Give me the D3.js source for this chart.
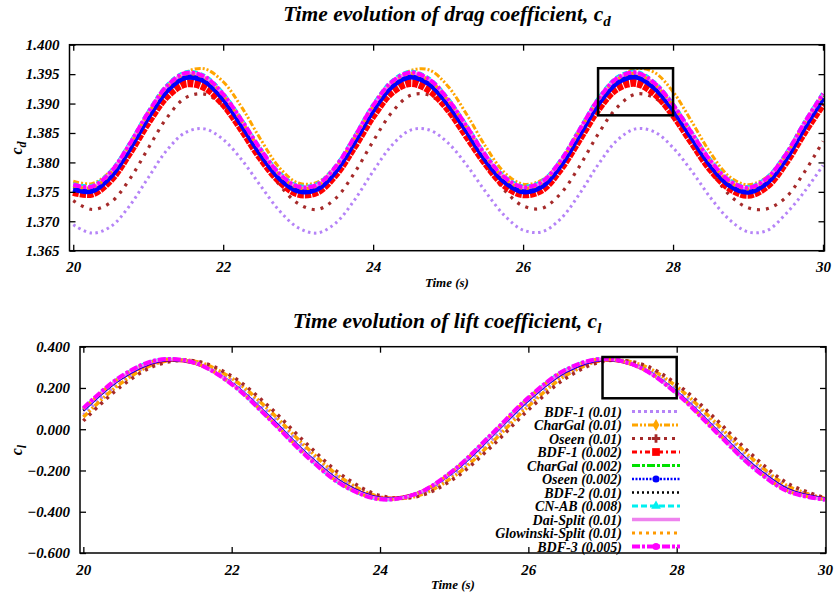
<!DOCTYPE html>
<html>
<head>
<meta charset="utf-8">
<script src="https://cdn.jsdelivr.net/npm/d3@7/dist/d3.min.js"></script>
<style>
  body { margin: 0; background: #fff; }
  svg text { font-family: "Liberation Serif", "DejaVu Serif", serif; font-weight: bold; font-style: italic; fill: #000; }
</style>
</head>
<body>
<div id="chart"></div>
<script>
// ---- data ----
const seriesNames = ["BDF-1 (0.01)", "CharGal (0.01)", "Oseen (0.01)", "BDF-1 (0.002)", "CharGal (0.002)",
  "Oseen (0.002)", "BDF-2 (0.01)", "CN-AB (0.008)", "Dai-Split (0.01)", "Glowinski-Split (0.01)", "BDF-3 (0.005)"]

const timeTicks = [20, 22, 24, 26, 28, 30]
const cdTicks = [1.365, 1.370, 1.375, 1.380, 1.385, 1.390, 1.395, 1.400]
const clTicks = [-0.6, -0.4, -0.2, 0.0, 0.2, 0.4]

const dragTime = [20, 20.25, 20.5, 20.75, 21, 21.25, 21.5, 21.75, 22, 22.25, 22.5, 22.75, 23, 23.25, 23.5, 23.75,
  24, 24.25, 24.5, 24.75, 25, 25.25, 25.5, 25.75, 26, 26.25, 26.5, 26.75, 27, 27.25, 27.5, 27.75,
  28, 28.25, 28.5, 28.75, 29, 29.25, 29.5, 29.75, 30]

const cdBdf1_01 = [1.3694, 1.3680, 1.3691, 1.3726, 1.3774, 1.3821, 1.3851, 1.3857, 1.3839, 1.3804, 1.3760, 1.3718, 1.3689, 1.3680, 1.3697, 1.3736,
  1.3785, 1.3829, 1.3855, 1.3855, 1.3833, 1.3795, 1.3750, 1.3710, 1.3685, 1.3682, 1.3704, 1.3746, 1.3796, 1.3837, 1.3857, 1.3852,
  1.3825, 1.3785, 1.3740, 1.3703, 1.3682, 1.3684, 1.3712, 1.3750, 1.3795]
const cdCharGal_01 = [1.3768, 1.3764, 1.3785, 1.3826, 1.3876, 1.3922, 1.3953, 1.3959, 1.3937, 1.3893, 1.3839, 1.3791, 1.3765, 1.3766, 1.3793, 1.3837,
  1.3887, 1.3931, 1.3956, 1.3957, 1.3929, 1.3881, 1.3827, 1.3783, 1.3763, 1.3770, 1.3801, 1.3848, 1.3898, 1.3938, 1.3959, 1.3953,
  1.3920, 1.3869, 1.3816, 1.3776, 1.3762, 1.3775, 1.3811, 1.3859, 1.3908]
const cdOseen_01 = [1.3735, 1.3720, 1.3732, 1.3771, 1.3824, 1.3876, 1.3910, 1.3916, 1.3896, 1.3857, 1.3808, 1.3762, 1.3730, 1.3720, 1.3739, 1.3782,
  1.3836, 1.3885, 1.3914, 1.3914, 1.3889, 1.3847, 1.3797, 1.3753, 1.3726, 1.3722, 1.3747, 1.3793, 1.3848, 1.3893, 1.3916, 1.3910,
  1.3881, 1.3836, 1.3787, 1.3745, 1.3723, 1.3721, 1.3740, 1.3783, 1.3836]
const cdBdf1_002 = [1.3750, 1.3747, 1.3771, 1.3817, 1.3869, 1.3913, 1.3934, 1.3928, 1.3900, 1.3856, 1.3808, 1.3769, 1.3747, 1.3750, 1.3780, 1.3828,
  1.3880, 1.3920, 1.3935, 1.3923, 1.3891, 1.3845, 1.3799, 1.3762, 1.3746, 1.3754, 1.3790, 1.3840, 1.3891, 1.3926, 1.3935, 1.3918,
  1.3882, 1.3835, 1.3789, 1.3757, 1.3745, 1.3760, 1.3800, 1.3852, 1.3900]
const cdCharGal_002 = [1.3759, 1.3756, 1.3781, 1.3828, 1.3882, 1.3927, 1.3949, 1.3943, 1.3913, 1.3868, 1.3819, 1.3778, 1.3756, 1.3759, 1.3790, 1.3840,
  1.3894, 1.3934, 1.3950, 1.3938, 1.3904, 1.3858, 1.3809, 1.3772, 1.3755, 1.3764, 1.3800, 1.3852, 1.3904, 1.3940, 1.3950, 1.3932,
  1.3895, 1.3847, 1.3800, 1.3766, 1.3754, 1.3770, 1.3810, 1.3864, 1.3914]
const cdOseen_002 = [1.3755, 1.3752, 1.3777, 1.3824, 1.3878, 1.3923, 1.3945, 1.3939, 1.3909, 1.3864, 1.3815, 1.3774, 1.3752, 1.3755, 1.3786, 1.3836,
  1.3890, 1.3930, 1.3946, 1.3934, 1.3900, 1.3854, 1.3805, 1.3768, 1.3751, 1.3760, 1.3796, 1.3848, 1.3900, 1.3936, 1.3946, 1.3928,
  1.3891, 1.3843, 1.3796, 1.3762, 1.3750, 1.3766, 1.3806, 1.3860, 1.3910]
const cdBdf2 = [1.3760, 1.3757, 1.3782, 1.3829, 1.3883, 1.3928, 1.3950, 1.3944, 1.3914, 1.3869, 1.3820, 1.3779, 1.3757, 1.3760, 1.3791, 1.3841,
  1.3895, 1.3935, 1.3951, 1.3939, 1.3905, 1.3859, 1.3810, 1.3773, 1.3756, 1.3765, 1.3801, 1.3853, 1.3905, 1.3941, 1.3951, 1.3933,
  1.3896, 1.3848, 1.3801, 1.3767, 1.3755, 1.3771, 1.3811, 1.3865, 1.3915]
const cdCnab = [1.3764, 1.3761, 1.3786, 1.3833, 1.3887, 1.3932, 1.3954, 1.3948, 1.3918, 1.3873, 1.3824, 1.3783, 1.3761, 1.3764, 1.3795, 1.3845,
  1.3899, 1.3939, 1.3955, 1.3943, 1.3909, 1.3863, 1.3814, 1.3777, 1.3760, 1.3769, 1.3805, 1.3857, 1.3909, 1.3945, 1.3955, 1.3937,
  1.3900, 1.3852, 1.3805, 1.3771, 1.3759, 1.3775, 1.3815, 1.3869, 1.3919]
const cdDai = [1.3761, 1.3758, 1.3783, 1.3830, 1.3884, 1.3929, 1.3951, 1.3945, 1.3915, 1.3870, 1.3821, 1.3780, 1.3758, 1.3761, 1.3792, 1.3842,
  1.3896, 1.3936, 1.3952, 1.3940, 1.3906, 1.3860, 1.3811, 1.3774, 1.3757, 1.3766, 1.3802, 1.3854, 1.3906, 1.3942, 1.3952, 1.3934,
  1.3897, 1.3849, 1.3802, 1.3768, 1.3756, 1.3772, 1.3812, 1.3866, 1.3916]
const cdGlowinski = [1.3760, 1.3757, 1.3782, 1.3829, 1.3883, 1.3928, 1.3950, 1.3944, 1.3914, 1.3869, 1.3820, 1.3779, 1.3757, 1.3760, 1.3791, 1.3841,
  1.3895, 1.3935, 1.3951, 1.3939, 1.3905, 1.3859, 1.3810, 1.3773, 1.3756, 1.3765, 1.3801, 1.3853, 1.3905, 1.3941, 1.3951, 1.3933,
  1.3896, 1.3848, 1.3801, 1.3767, 1.3755, 1.3771, 1.3811, 1.3865, 1.3915]
const cdBdf3 = [1.3762, 1.3759, 1.3784, 1.3831, 1.3885, 1.3930, 1.3952, 1.3946, 1.3916, 1.3871, 1.3822, 1.3781, 1.3759, 1.3762, 1.3793, 1.3843,
  1.3897, 1.3937, 1.3953, 1.3941, 1.3907, 1.3861, 1.3812, 1.3775, 1.3758, 1.3767, 1.3803, 1.3855, 1.3907, 1.3943, 1.3953, 1.3935,
  1.3898, 1.3850, 1.3803, 1.3769, 1.3757, 1.3773, 1.3813, 1.3867, 1.3917]

const liftTime = [20, 20.5, 21, 21.5, 22, 22.5, 23, 23.5, 24, 24.5, 25, 25.5, 26, 26.5, 27, 27.5, 28, 28.5, 29, 29.5, 30]

const clBdf1_01 = [0.0690, 0.2276, 0.3220, 0.3258, 0.2379, 0.0831, -0.0952, -0.2466, -0.3287, -0.3181, -0.2180,
  -0.0566, 0.1209, 0.2643, 0.3332, 0.3084, 0.1968, 0.0297, -0.1457, -0.2801, -0.3356]
const clCharGal_01 = [0.0587, 0.2208, 0.3206, 0.3302, 0.2470, 0.0940, -0.0852, -0.2406, -0.3282, -0.3234, -0.2274,
  -0.0676, 0.1113, 0.2589, 0.3336, 0.3144, 0.2067, 0.0407, -0.1367, -0.2756, -0.3369]
const clOseen_01 = [0.0405, 0.2055, 0.3125, 0.3317, 0.2574, 0.1107, -0.0672, -0.2261, -0.3215, -0.3263, -0.2392,
  -0.0848, 0.0935, 0.2456, 0.3283, 0.3187, 0.2194, 0.0583, -0.1191, -0.2631, -0.3330]
const clBdf1_002 = [0.0890, 0.2400, 0.3236, 0.3159, 0.2194, 0.0612, -0.1144, -0.2576, -0.3285, -0.3067, -0.1987,
  -0.0347, 0.1391, 0.2738, 0.3312, 0.2955, 0.1766, 0.0080, -0.1628, -0.2878, -0.3319]
const clCharGal_002 = [0.0964, 0.2496, 0.3326, 0.3219, 0.2206, 0.0572, -0.1223, -0.2673, -0.3372, -0.3120, -0.1991,
  -0.0301, 0.1474, 0.2835, 0.3396, 0.3002, 0.1762, 0.0027, -0.1716, -0.2976, -0.3398]
const clOseen_002 = [0.0906, 0.2444, 0.3295, 0.3217, 0.2234, 0.0623, -0.1165, -0.2623, -0.3345, -0.3123, -0.2023,
  -0.0353, 0.1416, 0.2788, 0.3373, 0.3009, 0.1798, 0.0081, -0.1658, -0.2931, -0.3380]
const clBdf2 = [0.091, 0.244, 0.330, 0.322, 0.223, 0.062, -0.117, -0.262, -0.335, -0.312, -0.202,
  -0.035, 0.142, 0.279, 0.337, 0.301, 0.180, 0.008, -0.166, -0.293, -0.338]
const clCnab = [0.101, 0.254, 0.336, 0.322, 0.218, 0.053, -0.127, -0.272, -0.340, -0.312, -0.196,
  -0.026, 0.152, 0.288, 0.342, 0.300, 0.174, -0.001, -0.176, -0.301, -0.342]
const clDai = [0.097, 0.250, 0.333, 0.322, 0.221, 0.057, -0.122, -0.267, -0.337, -0.312, -0.199,
  -0.030, 0.147, 0.284, 0.340, 0.300, 0.176, 0.003, -0.172, -0.298, -0.340]
const clGlowinski = [0.099, 0.252, 0.334, 0.322, 0.219, 0.055, -0.125, -0.270, -0.339, -0.312, -0.197,
  -0.028, 0.150, 0.286, 0.341, 0.300, 0.175, 0.001, -0.174, -0.300, -0.341]
const clBdf3 = [0.1022, 0.2547, 0.3356, 0.3220, 0.2178, 0.0521, -0.1281, -0.2723, -0.3398, -0.3117, -0.1958,
  -0.0248, 0.1532, 0.2881, 0.3418, 0.2994, 0.1726, -0.0027, -0.1773, -0.3020, -0.3416]

const dragSeries = [cdBdf1_01, cdCharGal_01, cdOseen_01, cdBdf1_002, cdCharGal_002, cdOseen_002, cdBdf2, cdCnab, cdDai, cdGlowinski, cdBdf3]
const liftSeries = [clBdf1_01, clCharGal_01, clOseen_01, clBdf1_002, clCharGal_002, clOseen_002, clBdf2, clCnab, clDai, clGlowinski, clBdf3]

// zoom boxes drawn on the figure: [t0, t1, v0, v1]
const dragBox = [27, 28, 1.388, 1.396]
const liftBox = [27, 28, 0.15, 0.35]

// ---- line styles (gnuplot-like) ----
const styles = [
  { color: "#b583f7", top: [3, "2.5 3.5"], bot: [3, "2.5 3.5"], leg: [3, "3 3"], mark: null },
  { color: "#ffa500", top: [3, "6 2 2 2 2 2"], bot: [3.5, "6 2 2 2 2 2"], leg: [3, "6 2 2 2 2 2"], mark: d3.symbolDiamond },
  { color: "#a52a2a", top: [3.2, "3 6"], bot: [3.5, "3 5"], leg: [3, "3 5"], mark: d3.symbolCross },
  { color: "#ff0000", top: [8, "6 1"], bot: [1.5, null], leg: [3, "5 3 2 3"], mark: d3.symbolSquare },
  { color: "#00e000", top: [4, "8 2 3 2"], bot: [3, "8 2 3 2"], leg: [3, "8 2 3 2"], mark: null },
  { color: "#0000ff", top: [6, null], bot: [3, null], leg: [2.5, "2 1.5"], mark: d3.symbolCircle },
  { color: "#000000", top: [1.5, "2 3"], bot: [1.5, "2 3"], leg: [2.5, "2 3"], mark: null },
  { color: "#00f0f0", top: [3, "5 3"], bot: [3, "5 3"], leg: [3, "6 3"], mark: d3.symbolTriangle },
  { color: "#ee82ee", top: [3, null], bot: [3, null], leg: [3.5, null], mark: null },
  { color: "#ff9a00", top: [3, "3 4"], bot: [3, "3 4"], leg: [3, "3 4"], mark: null },
  { color: "#ff00ff", top: [4, "8 2 3 2"], bot: [4, "8 2 3 2"], leg: [4, "8 2 3 2"], mark: d3.symbolCircle }
]

const W = 834, H = 597

const svg = d3.select("#chart").append("svg")
  .attr("width", W)
  .attr("height", H)

function title(y, main, sub) {
  const t = svg.append("text")
    .attr("x", 447).attr("y", y)
    .attr("text-anchor", "middle")
    .style("font-size", "21.5px")
    .text(main)
  t.append("tspan").attr("dy", 5).style("font-size", "15px").text(sub)
}

function yLabel(x, y, sub) {
  const t = svg.append("text")
    .attr("transform", `translate(${x},${y}) rotate(-90)`)
    .attr("text-anchor", "middle")
    .style("font-size", "16px")
    .text("c")
  t.append("tspan").attr("dy", 4).style("font-size", "12px").text(sub)
}

function drawPanel(id, box, xDomain, yDomain, time, series, yTicks, fmt, key, zoomBox) {
  const x = d3.scaleLinear().domain(xDomain).range([box.x0, box.x1])
  const y = d3.scaleLinear().domain(yDomain).range([box.y1, box.y0])

  svg.append("clipPath").attr("id", id)
    .append("rect")
    .attr("x", box.x0).attr("y", box.y0)
    .attr("width", box.x1 - box.x0).attr("height", box.y1 - box.y0)

  const line = d3.line()
    .x((d, i) => x(time[i]))
    .y(d => y(d))
    .curve(d3.curveCatmullRom.alpha(0.5))

  const g = svg.append("g").attr("clip-path", `url(#${id})`)
  series.forEach((vals, k) => {
    const st = styles[k][key]
    g.append("path")
      .attr("d", line(vals))
      .attr("fill", "none")
      .attr("stroke", styles[k].color)
      .attr("stroke-width", st[0])
      .attr("stroke-dasharray", st[1])
  })

  // ticks on all four sides, pointing inward
  const tickStyle = sel => {
    sel.attr("font-family", null).attr("font-size", null)
    sel.select(".domain").remove()
    sel.selectAll(".tick line").attr("stroke", "#000").attr("stroke-width", 1.3)
    sel.selectAll("text").style("font-size", "15px")
  }
  svg.append("g").attr("transform", `translate(${box.x0},0)`)
    .call(d3.axisLeft(y).tickValues(yTicks).tickFormat(fmt).tickSize(-6).tickPadding(10))
    .call(tickStyle)
  svg.append("g").attr("transform", `translate(${box.x1},0)`)
    .call(d3.axisRight(y).tickValues(yTicks).tickFormat("").tickSize(-6))
    .call(tickStyle)
  svg.append("g").attr("transform", `translate(0,${box.y1})`)
    .call(d3.axisBottom(x).tickValues(timeTicks).tickFormat(d3.format("d")).tickSize(-6).tickPadding(11))
    .call(tickStyle)
  svg.append("g").attr("transform", `translate(0,${box.y0})`)
    .call(d3.axisTop(x).tickValues(timeTicks).tickFormat("").tickSize(-6))
    .call(tickStyle)

  svg.append("rect")
    .attr("x", box.x0).attr("y", box.y0)
    .attr("width", box.x1 - box.x0).attr("height", box.y1 - box.y0)
    .attr("fill", "none").attr("stroke", "#000").attr("stroke-width", 1.5)

  svg.append("rect")
    .attr("x", x(zoomBox[0])).attr("y", y(zoomBox[3]))
    .attr("width", x(zoomBox[1]) - x(zoomBox[0]))
    .attr("height", y(zoomBox[2]) - y(zoomBox[3]))
    .attr("fill", "none").attr("stroke", "#000").attr("stroke-width", 2.5)

  svg.append("text")
    .attr("x", (box.x0 + box.x1) / 2).attr("y", box.y1 + 36)
    .attr("text-anchor", "middle")
    .style("font-size", "13px")
    .text("Time (s)")
}

title(21, "Time evolution of drag coefficient, c", "d")
title(328, "Time evolution of lift coefficient, c", "l")

drawPanel("clipTop", { x0: 69.5, x1: 824.5, y0: 44.7, y1: 250.7 }, [19.95, 30.02], [1.365, 1.400],
  dragTime, dragSeries, cdTicks, d3.format(".3f"), "top", dragBox)
drawPanel("clipBot", { x0: 80, x1: 826, y0: 346.7, y1: 553 }, [19.955, 30.013], [-0.6, 0.4],
  liftTime, liftSeries, clTicks, d3.format(".3f"), "bot", liftBox)

yLabel(22, 148, "d")
yLabel(22, 450, "l")

// legend
const legend = svg.append("g")
seriesNames.forEach((name, k) => {
  const ly = 411.5 + k * 13.5
  legend.append("text")
    .attr("x", 622).attr("y", ly + 5)
    .attr("text-anchor", "end")
    .style("font-size", "14px")
    .text(name)
  const st = styles[k].leg
  legend.append("line")
    .attr("x1", 632).attr("x2", 680)
    .attr("y1", ly).attr("y2", ly)
    .attr("stroke", styles[k].color)
    .attr("stroke-width", st[0])
    .attr("stroke-dasharray", st[1])
  if (styles[k].mark) {
    legend.append("path")
      .attr("transform", `translate(656,${ly})`)
      .attr("d", d3.symbol().type(styles[k].mark).size(k === 3 ? 60 : 40)())
      .attr("fill", styles[k].color)
  }
})
</script>
</body>
</html>
